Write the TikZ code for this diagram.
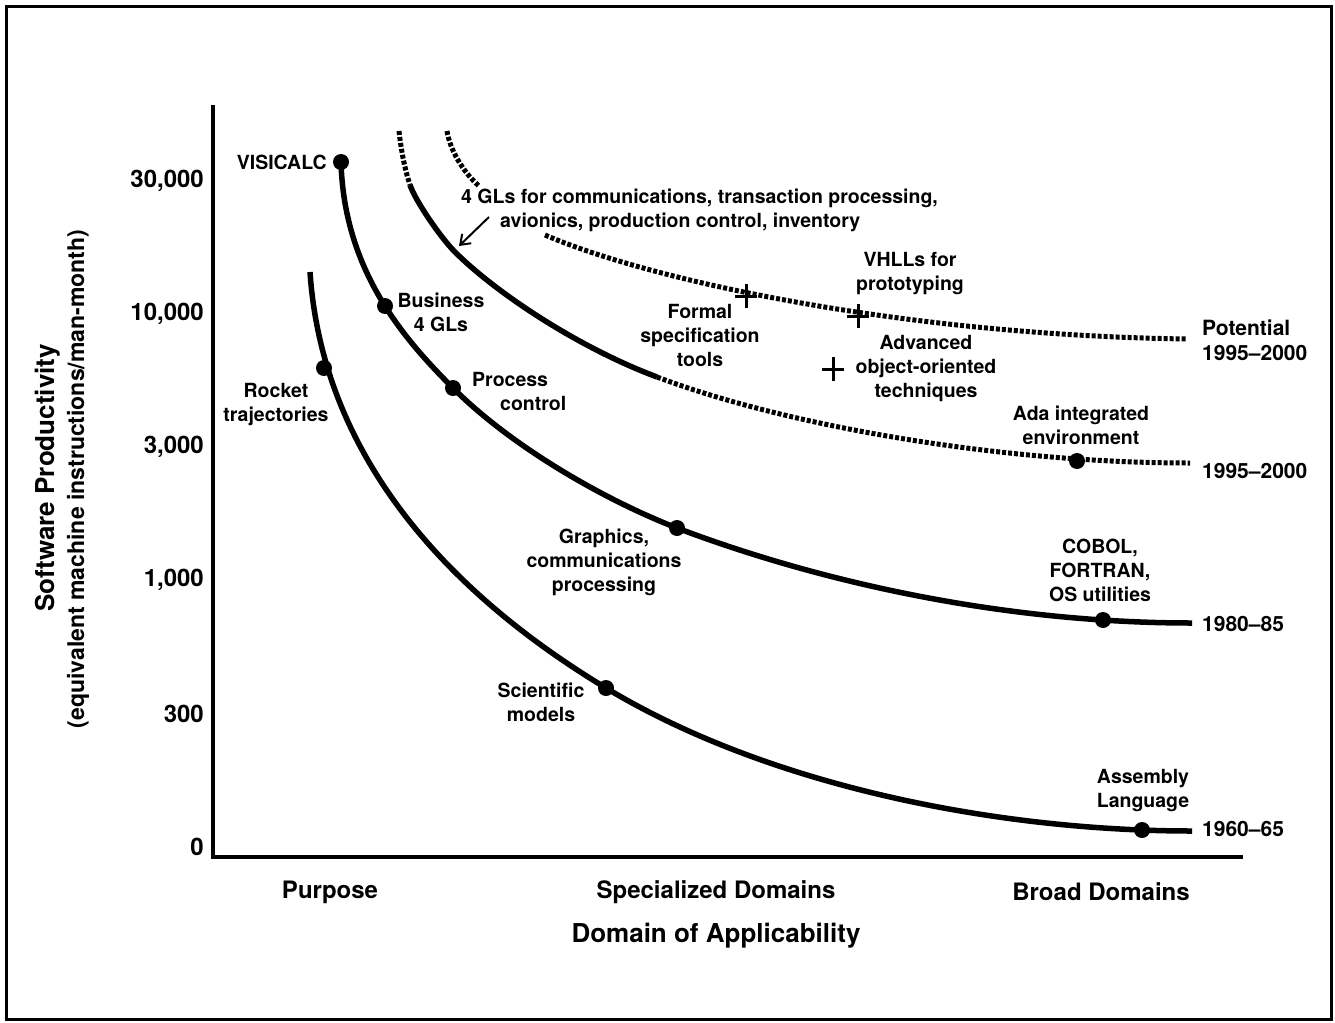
\documentclass[tikz,border=0pt]{standalone}
\usepackage{fontspec}
\setmainfont{TeX Gyre Heros}
\usetikzlibrary{arrows.meta}
\begin{document}
\begin{tikzpicture}[x=1pt,y=-1pt,
  curve/.style={line width=5.5pt, line cap=butt},
  hatch/.style={line width=5pt, dash pattern=on 4pt off 2pt},
  dot/.style={circle, fill=black, inner sep=0pt, minimum size=16pt},
  lbl/.style={font=\fontsize{19.5}{24}\selectfont\bfseries, align=center, inner sep=0pt},
  yr/.style={font=\fontsize{21}{25}\selectfont\bfseries, align=left, inner sep=0pt, anchor=west},
  tick/.style={font=\fontsize{24}{28}\selectfont\bfseries, inner sep=0pt, anchor=east},
  cat/.style={font=\fontsize{24}{28}\selectfont\bfseries, inner sep=0pt},
  plusmark/.pic={\draw[line width=3pt] (-11,0)--(11,0) (0,-12)--(0,12);}
]
\useasboundingbox (0,0) rectangle (1335,1022);
% frame
\draw[line width=3pt] (6.5,6.5) rectangle (1331.5,1019.5);
% axes
\coordinate (ytop) at (213,105);
\coordinate (orig) at (213,857);
\coordinate (xend) at (1243,857);
\draw[line width=4pt] (ytop) -- (orig) -- (xend);
% tick labels
\node[tick] (t30k) at (204,181) {30,000};
\node[tick] (t10k) at (204,314) {10,000};
\node[tick] (t3k) at (204,447) {3,000};
\node[tick] (t1k) at (204,580) {1,000};
\node[tick] (t300) at (204,714) {300};
\node[tick] (t0) at (204,847) {0};
% axis titles
\node[font=\fontsize{26}{30}\selectfont\bfseries, rotate=90, inner sep=0pt] (ytitle) at (48,478) {Software Productivity};
\node[font=\fontsize{23}{27}\selectfont\bfseries, rotate=90, inner sep=0pt] (ysub) at (78,479) {(equivalent machine instructions/man-month)};
\node[cat] (purpose) at (330,892) {Purpose};
\node[cat] (special) at (716,892) {Specialized Domains};
\node[cat] (broad) at (1101,892) {Broad Domains};
\node[font=\fontsize{26}{30}\selectfont\bfseries, inner sep=0pt] (xtitle) at (716,936) {Domain of Applicability};
% curve 1960-65
\draw[curve] (310,272) .. controls (322,450) and (440,588) .. (606,688)
                       .. controls (770,787) and (1000,831) .. (1192,831);
% curve 1980-85
\draw[curve] (341,162) .. controls (344,270) and (403,338) .. (453,388)
                       .. controls (513,448) and (607,501) .. (677,528)
                       .. controls (817,581) and (1000,623) .. (1192,623);
% curve 1995-2000
\draw[hatch] (399,131) .. controls (401,150) and (405,170) .. (410,185);
\draw[curve] (410,185) .. controls (415,200) and (440,237) .. (455,252)
                       .. controls (495,292) and (577,347) .. (657,377);
\draw[hatch] (657,377) .. controls (787,426) and (1000,463) .. (1190,463);
% potential curve
\draw[hatch] (447,131) .. controls (450,150) and (463,172) .. (479,186);
\draw[hatch] (545,235) .. controls (650,280) and (900,335) .. (1187,339);
% plus marks
\pic at (746,296) {plusmark};
\pic at (858,316) {plusmark};
\pic at (833,369) {plusmark};
% dots
\node[dot] (visicalc) at (341,162) {};
\node[dot] (business) at (385,306) {};
\node[dot] (process) at (453,388) {};
\node[dot] (graphics) at (677,528) {};
\node[dot] (cobol) at (1103,620) {};
\node[dot] (rocket) at (324,368) {};
\node[dot] (scientific) at (606,688) {};
\node[dot] (assembly) at (1142,830) {};
\node[dot] (ada) at (1077,461) {};
% arrow
\coordinate (arrS) at (489,217);
\coordinate (arrE) at (459,246);
\draw[line width=2pt, -{Straight Barb[length=9pt,width=13pt]}] (arrS) -- (arrE);
% labels
\node[lbl, anchor=east] (lvisi) at (327,162) {VISICALC};
\node[lbl] (lbus) at (441,312) {Business\\4 GLs};
\node[lbl] (lrocket) at (276,405) {Rocket\\trajectories};
\node[lbl, align=left, anchor=north west] (lproc) at (472,372) {Process\\\hspace*{28pt}control};
\node[lbl] (lgraph) at (604,562) {Graphics,\\communications\\processing};
\node[lbl] (lsci) at (541,702) {Scientific\\models};
\node[lbl, align=left, anchor=north west] (l4gl) at (461,189) {4 GLs for communications, transaction processing,\\\hspace*{39pt}avionics, production control, inventory};
\node[lbl] (lvhll) at (910,274) {VHLLs for\\prototyping};
\node[lbl] (lformal) at (700,335) {Formal\\specification\\tools};
\node[lbl] (ladv) at (926,369) {Advanced\\object-oriented\\techniques};
\node[lbl] (lada) at (1081,425) {Ada integrated\\environment};
\node[lbl] (lcobol) at (1100,570) {COBOL,\\FORTRAN,\\OS utilities};
\node[lbl] (lasm) at (1143,791) {Assembly\\Language};
\node[yr] (ypot) at (1202,340) {Potential\\1995--2000};
\node[yr] (y95) at (1202,471) {1995--2000};
\node[yr] (y80) at (1202,624) {1980--85};
\node[yr] (y60) at (1202,829) {1960--65};
\end{tikzpicture}
\end{document}
